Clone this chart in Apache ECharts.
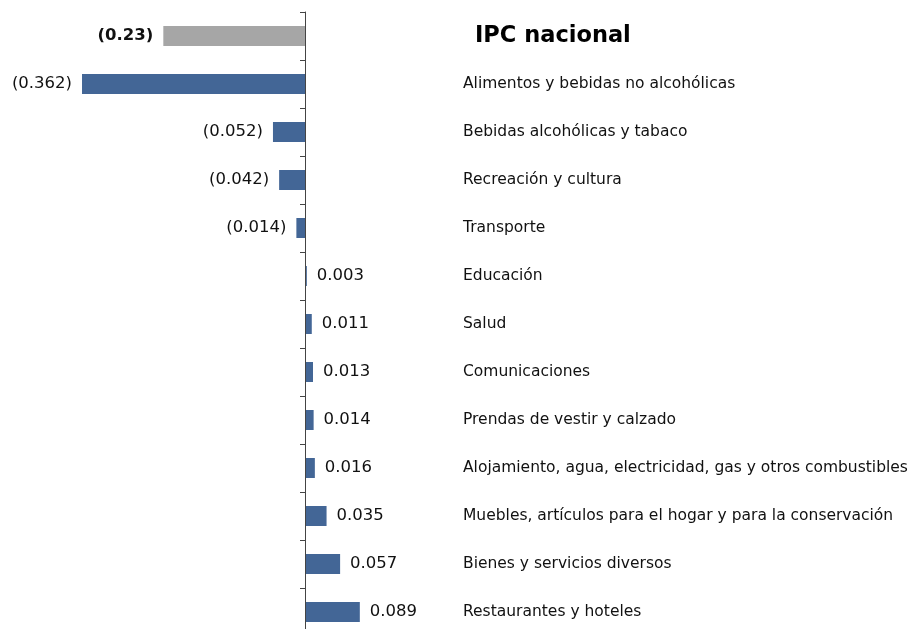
<!DOCTYPE html>
<html><head><meta charset="utf-8">
<script src="https://cdn.jsdelivr.net/npm/echarts@6/dist/echarts.min.js"></script>
<style>html,body{margin:0;padding:0;background:#fff;overflow:hidden}#c{width:912px;height:640px}</style>
</head><body><div id="c"></div>
<script>
var categories = ["IPC nacional","Alimentos y bebidas no alcohólicas","Bebidas alcohólicas y tabaco","Recreación y cultura","Transporte","Educación","Salud","Comunicaciones","Prendas de vestir y calzado","Alojamiento, agua, electricidad, gas y otros combustibles","Muebles, artículos para el hogar y para la conservación","Bienes y servicios diversos","Restaurantes y hoteles"];
var values = [-0.23,-0.362,-0.052,-0.042,-0.014,0.003,0.011,0.013,0.014,0.016,0.035,0.057,0.089];

var FONT = "DejaVu Sans";
var data = values.map(function(v,i){
  var first = i===0;
  return {
    value: v,
    itemStyle: {color: first ? '#a6a6a6' : '#436696'},
    label: {position: v<0 ? 'left' : 'right', fontWeight: first ? 'bold' : 'normal'}
  };
});

var chart = echarts.init(document.getElementById('c'), null, {renderer:'canvas'});
chart.setOption({
  animation:false,
  grid:{left:58.6, width:616, top:12, height:624, containLabel:false},
  xAxis:{type:'value', min:-0.4, max:0.6, show:false},
  yAxis:[{type:'category', data:categories, inverse:true,
    axisLine:{show:true, lineStyle:{color:'#444', width:1}},
    axisTick:{show:true, length:5, lineStyle:{color:'#444'}},
    axisLabel:{show:false},
    z:5
  },{type:'category', data:categories, inverse:true, position:'right', offset:-211.6,
    axisLine:{show:false}, axisTick:{show:false},
    axisLabel:{margin:0, align:'left', color:'#111', fontFamily:FONT, fontSize:15.5,
      formatter:function(v){ return v==='IPC nacional' ? '{t|'+v+'}' : v; },
      rich:{t:{fontFamily:FONT, fontSize:22.5, fontWeight:'bold', color:'#000', padding:[0,0,0,12]}}}
  }],
  series:[{type:'bar', data:data, barWidth:20, yAxisIndex:0,
    label:{show:true, distance:10, color:'#111', fontFamily:FONT, fontSize:16.5,
      formatter:function(p){ var v=p.value; return v<0 ? '('+Math.abs(v)+')' : String(v); }}
  }]
});
</script></body></html>
